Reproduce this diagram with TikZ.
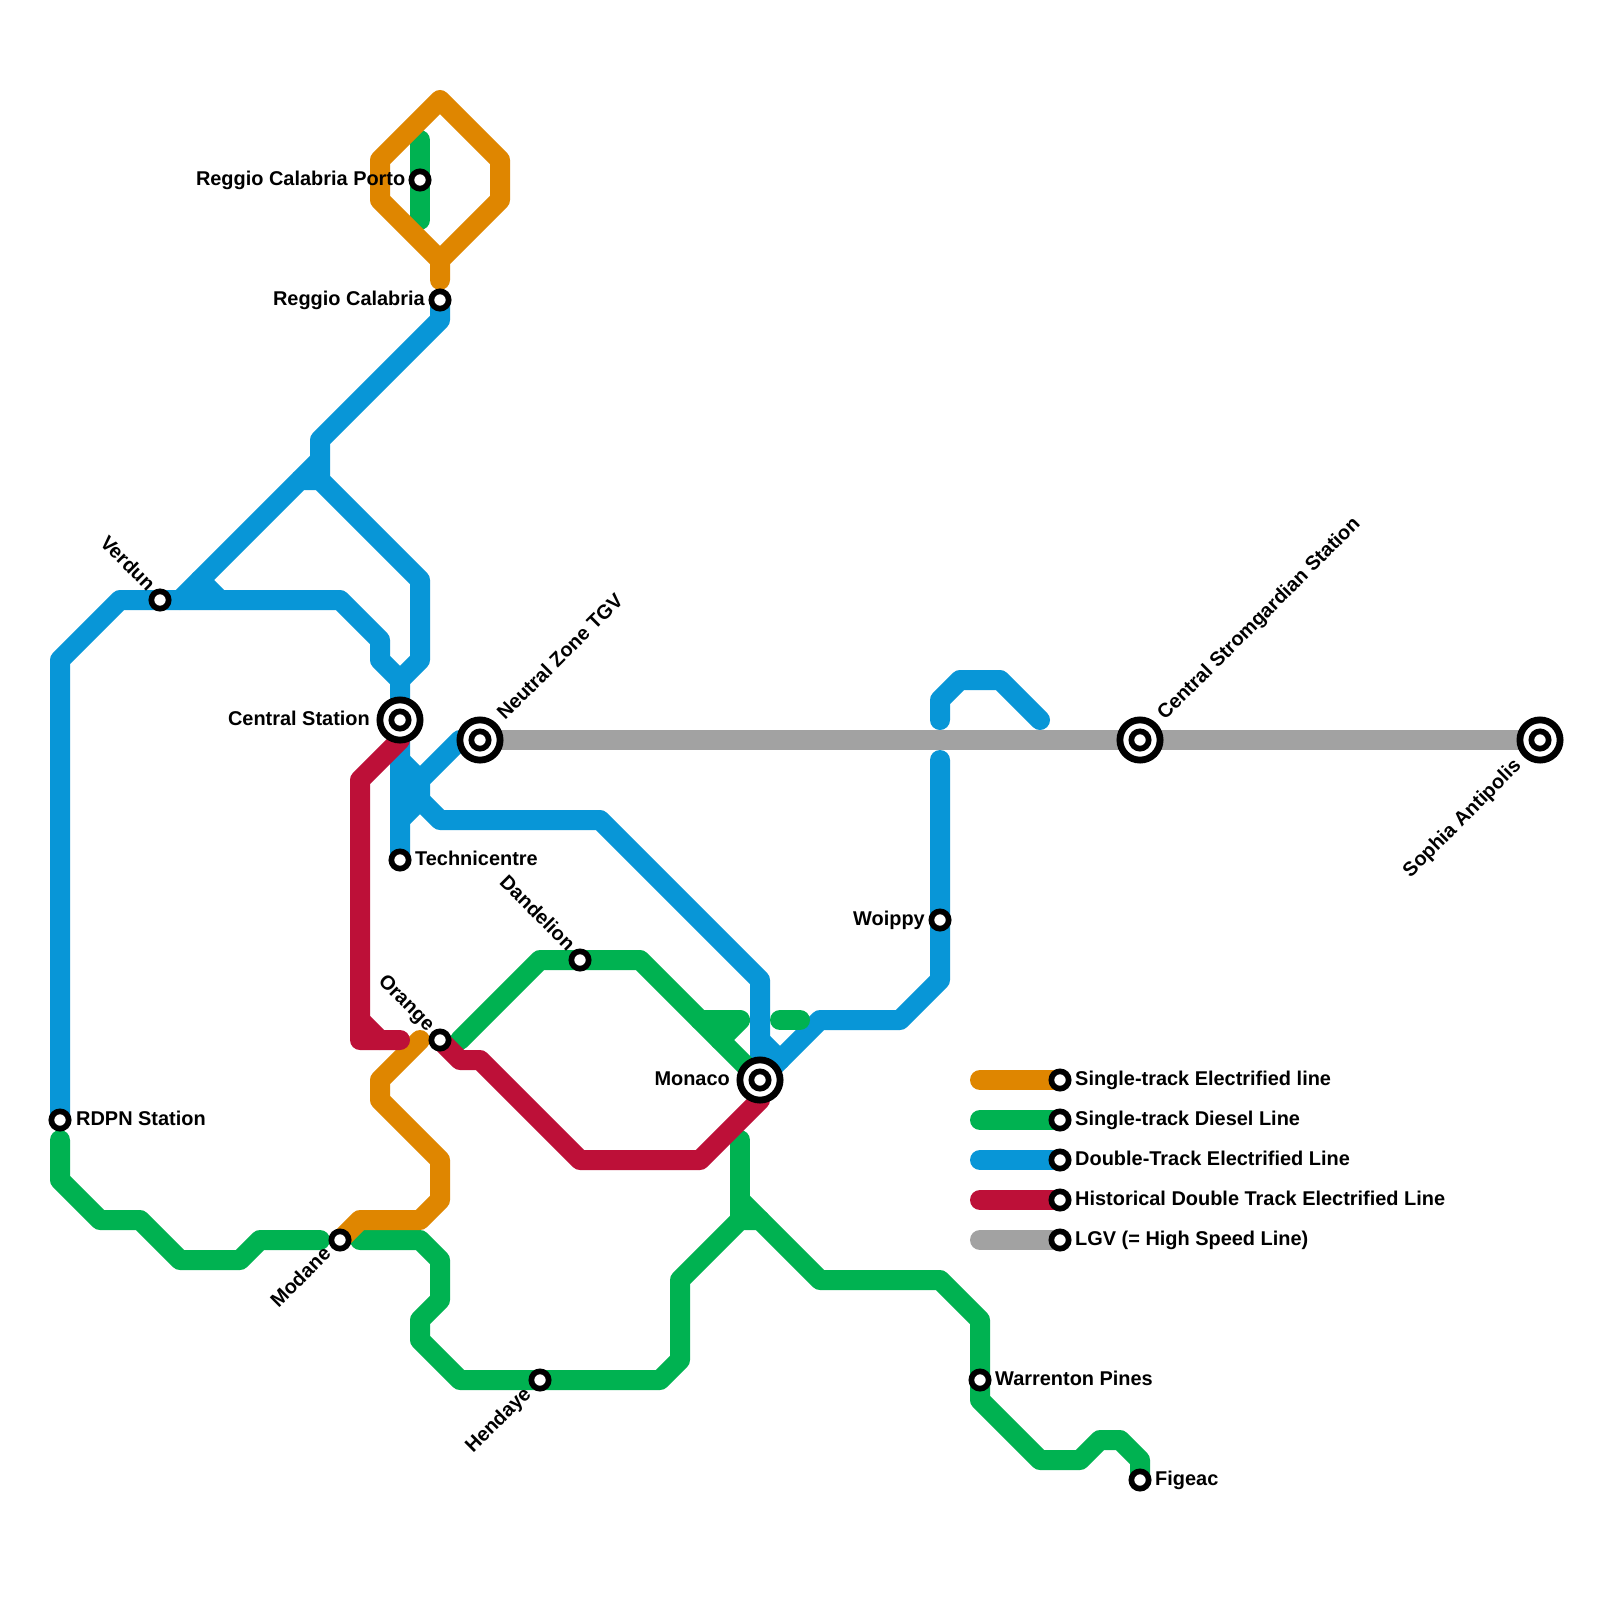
\documentclass[tikz,border=0pt]{standalone}
\usepackage{fontspec}
\setmainfont{Liberation Sans}
\definecolor{morange}{HTML}{DF8600}
\definecolor{mgreen}{HTML}{00B251}
\definecolor{mblue}{HTML}{0896D7}
\definecolor{mred}{HTML}{BD1038}
\definecolor{mgray}{HTML}{A2A2A2}
\tikzset{
  railway/.style={line width=20pt,line cap=round,line join=round},
  stop/.style={circle,draw=black,fill=white,line width=5.7pt,minimum size=17.3pt,inner sep=0pt},
  hubouter/.style={circle,draw=black,fill=white,line width=6.8pt,minimum size=40.2pt,inner sep=0pt},
  lbl/.style={inner sep=0pt,font=\fontsize{19.93}{24}\selectfont\bfseries},
  lblr/.style={lbl,anchor=base west},
  lbll/.style={lbl,anchor=base east},
  lblup/.style={lbl,anchor=base west,rotate=45},
  lblul/.style={lbl,anchor=base east,rotate=-45},
  lbldl/.style={lbl,anchor=base east,rotate=45}
}
\begin{document}
\begin{tikzpicture}[x=1pt,y=-1pt]
\useasboundingbox[fill=white] (0,0) rectangle (1600,1600);
% station positions
\coordinate (rdpn) at (60,1120);
\coordinate (verdun) at (160,600);
\coordinate (central) at (400,720);
\coordinate (neutral) at (480,740);
\coordinate (techni) at (400,860);
\coordinate (porto) at (420,180);
\coordinate (reggio) at (440,300);
\coordinate (modane) at (340,1240);
\coordinate (orange) at (440,1040);
\coordinate (dandelion) at (580,960);
\coordinate (monaco) at (760,1080);
\coordinate (woippy) at (940,920);
\coordinate (warrenton) at (980,1380);
\coordinate (figeac) at (1140,1480);
\coordinate (hendaye) at (540,1380);
\coordinate (strom) at (1140,740);
\coordinate (sophia) at (1540,740);
\coordinate (lega) at (1060,1080);
\coordinate (legb) at (1060,1120);
\coordinate (legc) at (1060,1160);
\coordinate (legd) at (1060,1200);
\coordinate (lege) at (1060,1240);
% blue
\draw[railway,mblue] (rdpn) -- (60,660) -- (120,600) -- (verdun) -- (340,600) -- (380,640) -- (380,660) -- (400,680) -- (central) -- (techni);
\draw[railway,mblue] (400,680) -- (420,660) -- (420,580) -- (320,480) -- (320,440) -- (440,320) -- (reggio);
\draw[railway,mblue] (320,480) -- (300,480) -- (180,600);
\draw[railway,mblue,line cap=butt] (320,460) -- (300,480);
\draw[railway,mblue] (200,580) -- (220,600);
\draw[railway,mblue] (neutral) -- (460,740) -- (420,780) -- (420,800) -- (400,820);
\draw[railway,mblue] (400,760) -- (420,780);
\draw[railway,mblue] (420,800) -- (440,820) -- (600,820) -- (760,980) -- (monaco);
\draw[railway,mblue] (760,1040) -- (780,1060);
\draw[railway,mblue] (monaco) -- (820,1020) -- (900,1020) -- (940,980) -- (woippy) -- (940,760);
\draw[railway,mblue] (940,720) -- (940,700) -- (960,680) -- (1000,680) -- (1040,720);
% green
\draw[railway,mgreen] (420,140) -- (porto) -- (420,220);
\draw[railway,mgreen] (460,1040) -- (540,960) -- (dandelion) -- (640,960) -- (monaco);
\draw[railway,mgreen] (700,1020) -- (740,1020) -- (720,1040);
\draw[railway,mgreen] (780,1020) -- (800,1020);
\draw[railway,mgreen] (60,1140) -- (60,1180) -- (100,1220) -- (140,1220) -- (180,1260) -- (240,1260) -- (260,1240) -- (320,1240);
\draw[railway,mgreen] (360,1240) -- (420,1240) -- (440,1260) -- (440,1300) -- (420,1320) -- (420,1340) -- (460,1380) -- (hendaye) -- (660,1380) -- (680,1360) -- (680,1280) -- (740,1220) -- (760,1220);
\draw[railway,mgreen] (740,1140) -- (740,1220);
\draw[railway,mgreen] (740,1200) -- (820,1280) -- (940,1280) -- (980,1320) -- (warrenton) -- (980,1400) -- (1040,1460) -- (1080,1460) -- (1100,1440) -- (1120,1440) -- (1140,1460) -- (figeac);
% orange
\draw[railway,morange] (440,280) -- (440,260) -- (380,200) -- (380,160) -- (440,100) -- (500,160) -- (500,200) -- (440,260);
\draw[railway,morange] (420,1040) -- (380,1080) -- (380,1100) -- (440,1160) -- (440,1200) -- (420,1220) -- (360,1220) -- (modane);
% red
\draw[railway,mred] (central) -- (400,740) -- (360,780) -- (360,1040) -- (400,1040);
\draw[railway,mred] (360,1020) -- (380,1040);
\draw[railway,mred] (orange) -- (460,1060) -- (480,1060) -- (580,1160) -- (700,1160) -- (760,1100) -- (monaco);
% gray
\draw[railway,mgray,line cap=butt] (neutral) -- (strom) -- (sophia);
% legend lines
\draw[railway,morange] (980,1080) -- (lega);
\draw[railway,mgreen] (980,1120) -- (legb);
\draw[railway,mblue] (980,1160) -- (legc);
\draw[railway,mred] (980,1200) -- (legd);
\draw[railway,mgray] (980,1240) -- (lege);
% stations
\node[stop] (srdpn) at (rdpn) {};
\node[stop] (sverdun) at (verdun) {};
\node[hubouter] (scentral) at (central) {};
\node[stop] (scentralb) at (central) {};
\node[hubouter] (sneutral) at (neutral) {};
\node[stop] (sneutralb) at (neutral) {};
\node[stop] (stechni) at (techni) {};
\node[stop] (sporto) at (porto) {};
\node[stop] (sreggio) at (reggio) {};
\node[stop] (smodane) at (modane) {};
\node[stop] (sorange) at (orange) {};
\node[stop] (sdandelion) at (dandelion) {};
\node[hubouter] (smonaco) at (monaco) {};
\node[stop] (smonacob) at (monaco) {};
\node[stop] (swoippy) at (woippy) {};
\node[stop] (swarrenton) at (warrenton) {};
\node[stop] (sfigeac) at (figeac) {};
\node[stop] (shendaye) at (hendaye) {};
\node[hubouter] (sstrom) at (strom) {};
\node[stop] (sstromb) at (strom) {};
\node[hubouter] (ssophia) at (sophia) {};
\node[stop] (ssophiab) at (sophia) {};
\node[stop] (slega) at (lega) {};
\node[stop] (slegb) at (legb) {};
\node[stop] (slegc) at (legc) {};
\node[stop] (slegd) at (legd) {};
\node[stop] (slege) at (lege) {};
% labels
\node[lblr] (trdpn) at (76,1125.5) {RDPN Station};
\node[lblr] (ttechni) at (415,865.5) {Technicentre};
\node[lblr] (twarrenton) at (995,1385.5) {Warrenton Pines};
\node[lblr] (tfigeac) at (1155,1485.5) {Figeac};
\node[lblr] (tlega) at (1075,1085.5) {Single-track Electrified line};
\node[lblr] (tlegb) at (1075,1125.5) {Single-track Diesel Line};
\node[lblr] (tlegc) at (1075,1165.5) {Double-Track Electrified Line};
\node[lblr] (tlegd) at (1075,1205.5) {Historical Double Track Electrified Line};
\node[lblr] (tlege) at (1075,1245.5) {LGV (= High Speed Line)};
\node[lbll] (tcentral) at (370,725) {Central Station};
\node[lbll] (tmonaco) at (730,1085) {Monaco};
\node[lbll] (tporto) at (405.5,185) {Reggio Calabria Porto};
\node[lbll] (treggio) at (425,305) {Reggio Calabria};
\node[lbll] (twoippy) at (925,925) {Woippy};
\node[lblup] (tneutral) at (505,721) {Neutral Zone TGV};
\node[lblup] (tstrom) at (1165,721) {Central Stromgardian Station};
\node[lblul] (tverdun) at (147,592) {Verdun};
\node[lblul] (torange) at (427,1032) {Orange};
\node[lblul] (tdandelion) at (567,952) {Dandelion};
\node[lbldl] (tmodane) at (332,1255) {Modane};
\node[lbldl] (thendaye) at (532,1395) {Hendaye};
\node[lbldl] (tsophia) at (1522,767) {Sophia Antipolis};
\end{tikzpicture}
\end{document}
